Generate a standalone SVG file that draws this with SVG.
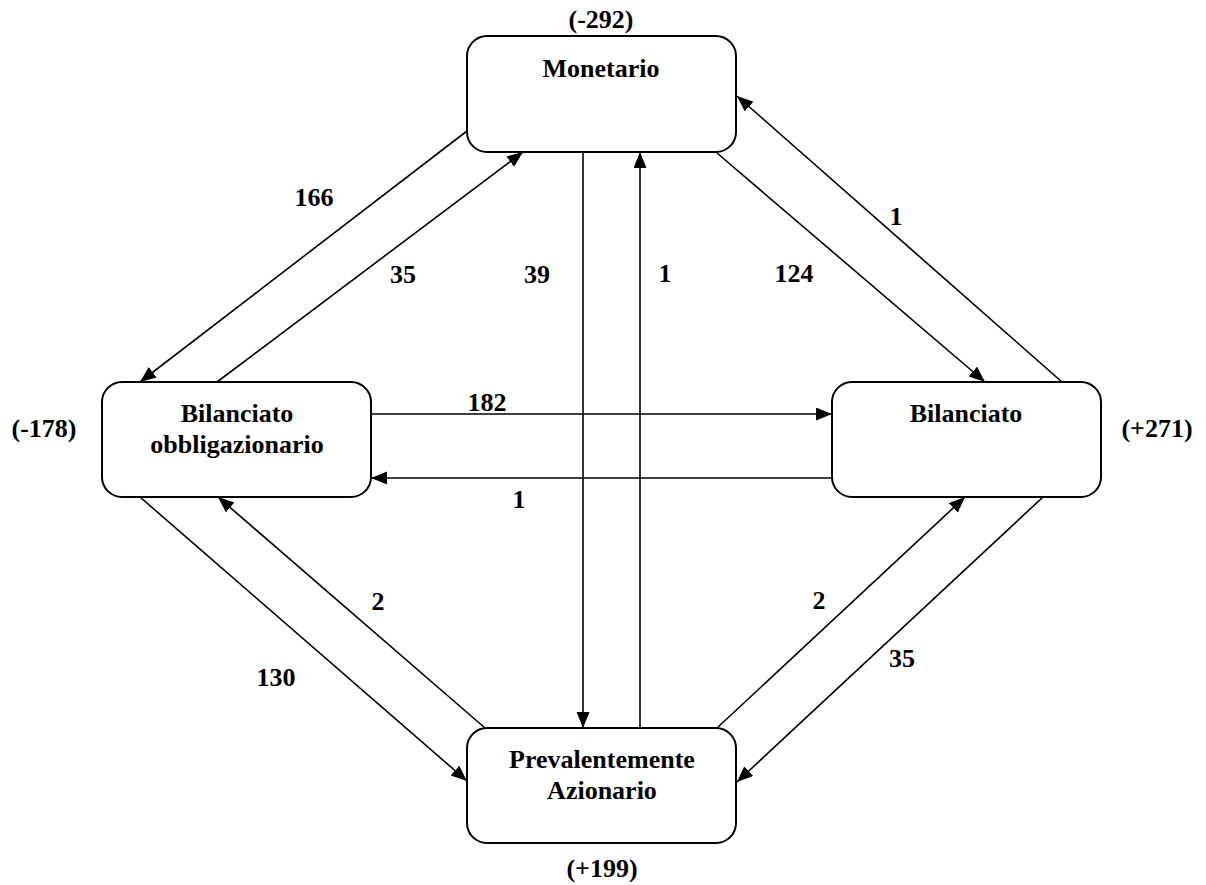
<svg xmlns="http://www.w3.org/2000/svg" width="1206" height="885" viewBox="0 0 1206 885">
<defs>
<marker id="ah" markerUnits="userSpaceOnUse" markerWidth="18" markerHeight="14" refX="16" refY="6.5" orient="auto">
<path d="M0,0 L16,6.5 L0,13 z" fill="#000"/>
</marker>
<style>
.box{fill:#fff;stroke:#000;stroke-width:2}
.t{font-family:"Liberation Serif","Times New Roman",serif;font-weight:bold;font-size:26px;fill:#000;text-anchor:middle}
.c{stroke:#000;stroke-width:1.6;fill:none;marker-end:url(#ah)}
.n{stroke:#000;stroke-width:1.6;fill:none}
</style>
</defs>
<rect width="1206" height="885" fill="#fff"/>
<g id="connectors">
<line class="c" x1="467" y1="131" x2="140" y2="382"/>
<line class="c" x1="217" y1="382" x2="523" y2="152"/>
<line class="c" x1="583" y1="152" x2="583" y2="728"/>
<line class="c" x1="640" y1="728" x2="640" y2="152"/>
<line class="c" x1="717" y1="153" x2="985" y2="382"/>
<line class="c" x1="1062" y1="382" x2="737" y2="96"/>
<line class="c" x1="371" y1="414" x2="832" y2="414"/>
<line class="c" x1="832" y1="478" x2="371" y2="478"/>
<line class="c" x1="140" y1="497" x2="467" y2="781"/>
<line class="c" x1="485" y1="728" x2="218" y2="497"/>
<line class="c" x1="717" y1="728" x2="965" y2="497"/>
<line class="c" x1="1043" y1="497" x2="737" y2="782"/>
<text class="t" x="314" y="206">166</text>
<text class="t" x="403" y="283">35</text>
<text class="t" x="537" y="283">39</text>
<text class="t" x="665" y="282">1</text>
<text class="t" x="794" y="282">124</text>
<text class="t" x="896" y="225">1</text>
<text class="t" x="487" y="411">182</text>
<text class="t" x="519" y="508">1</text>
<text class="t" x="378" y="610">2</text>
<text class="t" x="276" y="686">130</text>
<text class="t" x="819" y="609">2</text>
<text class="t" x="902" y="667">35</text>
</g>
<g id="monetario">
<rect class="box" x="467" y="36" width="269" height="116" rx="20"/>
<text class="t" x="601" y="77">Monetario</text>
<text class="t" x="601" y="28">(-292)</text>
</g>
<g id="bilanciato-obbligazionario">
<rect class="box" x="102" y="382" width="269" height="115" rx="20"/>
<text class="t" x="237" y="422">Bilanciato</text>
<text class="t" x="237" y="453">obbligazionario</text>
<text class="t" x="44" y="437">(-178)</text>
</g>
<g id="bilanciato">
<rect class="box" x="832" y="382" width="269" height="115" rx="20"/>
<text class="t" x="966" y="422">Bilanciato</text>
<text class="t" x="1157" y="437">(+271)</text>
</g>
<g id="prevalentemente-azionario">
<rect class="box" x="467" y="728" width="269" height="115" rx="20"/>
<text class="t" x="602" y="768">Prevalentemente</text>
<text class="t" x="602" y="799">Azionario</text>
<text class="t" x="602" y="877">(+199)</text>
</g>
</svg>
